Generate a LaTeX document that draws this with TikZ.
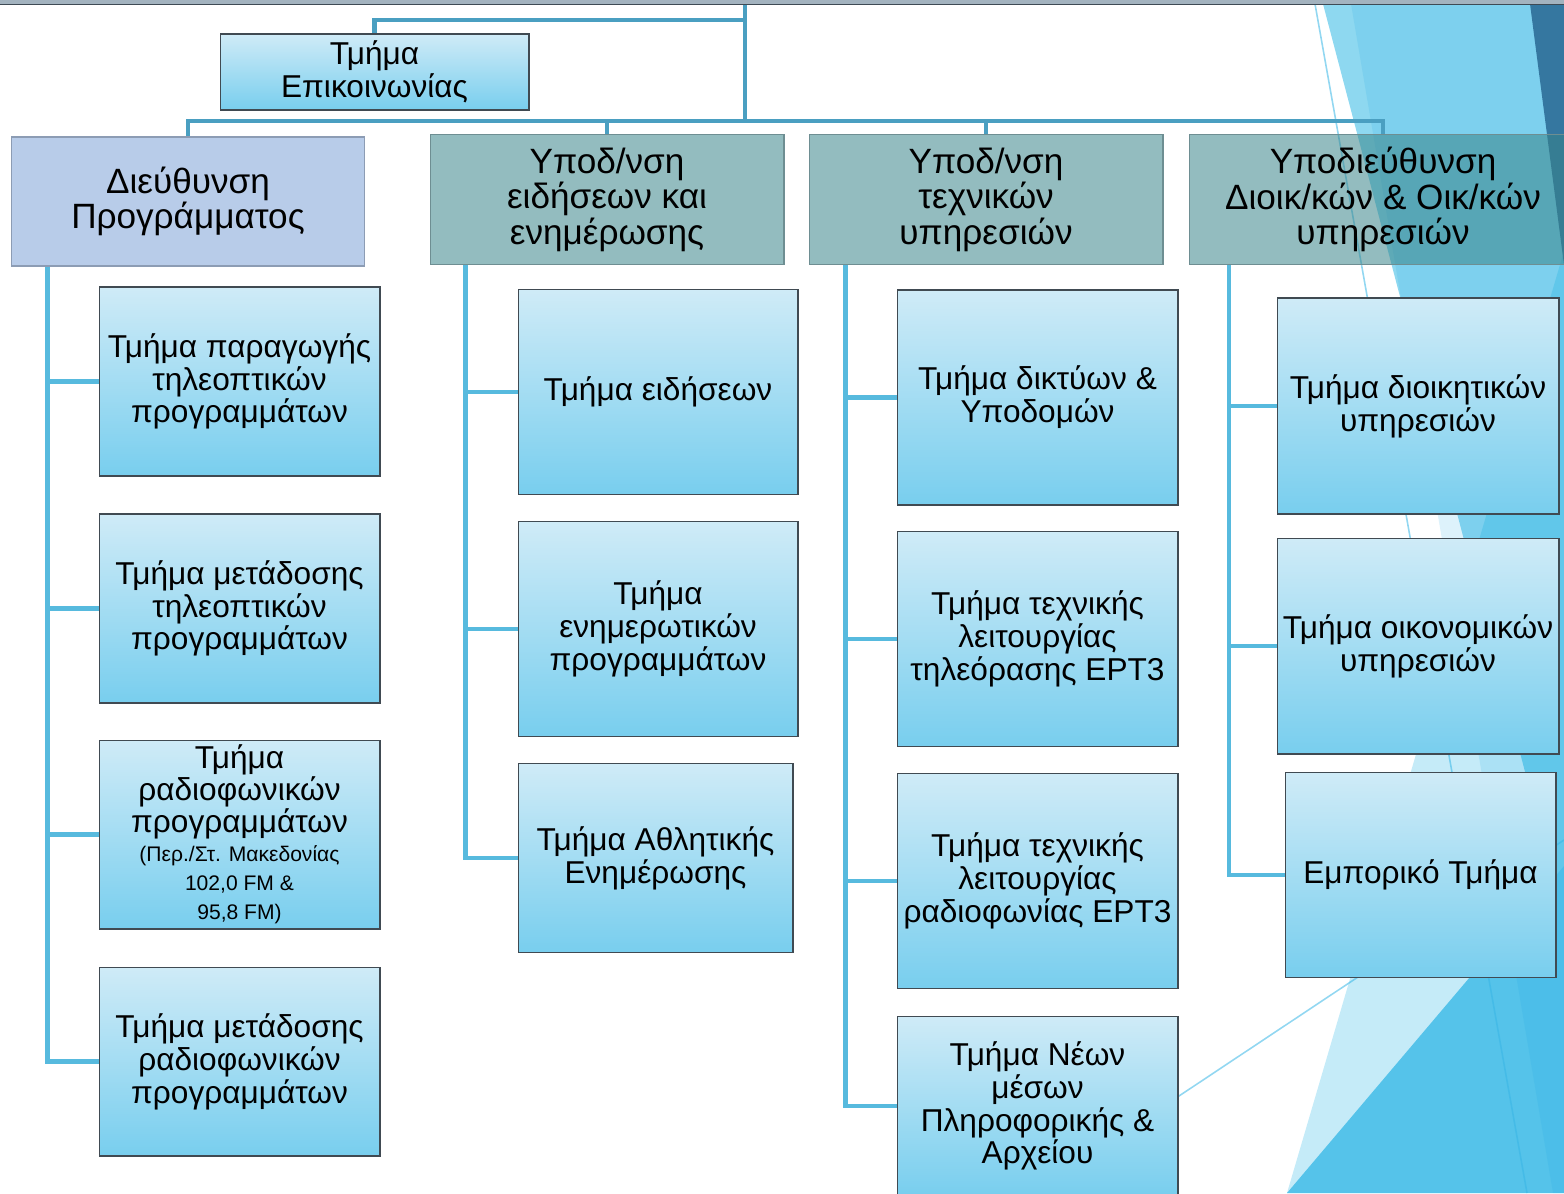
\documentclass[tikz,border=0pt]{standalone}
\usepackage{fontspec}
\setmainfont{Liberation Sans}
\definecolor{bandgray}{HTML}{A3B3BF}
\definecolor{banddark}{HTML}{3E4A54}
\definecolor{pone}{HTML}{8ED8F0}
\definecolor{ptwo}{HTML}{0BABE2}
\definecolor{pthree}{HTML}{55C3EA}
\definecolor{pfive}{HTML}{1CA8E4}
\definecolor{pdark}{HTML}{3577A0}
\definecolor{thinl}{HTML}{38B6E6}
\definecolor{childtop}{HTML}{CFEBF7}
\definecolor{childbot}{HTML}{78CEEE}
\definecolor{boxline}{HTML}{404A52}
\definecolor{headteal}{HTML}{378388}
\definecolor{headline}{HTML}{6E8E92}
\definecolor{headblue}{HTML}{B8CCE9}
\definecolor{headblueline}{HTML}{8C9CB4}
\definecolor{linkA}{HTML}{4A9FC1}
\definecolor{linkB}{HTML}{57BADE}
\begin{document}
\begin{tikzpicture}[x=0.02cm,y=-0.02cm,
  childbox/.style={rectangle, draw=boxline, line width=0.6pt, top color=childtop, bottom color=childbot, align=center, inner sep=0pt, font=\fontsize{18}{18.7}\selectfont},
  headbox/.style={rectangle, draw=headline, line width=0.6pt, fill=headteal, fill opacity=0.54, text opacity=1, align=center, inner sep=0pt, font=\fontsize{20}{20.2}\selectfont},
  dims/.style 2 args={minimum width=#1, minimum height=#2},
  toplink/.style={draw=linkA, line width=2.3pt},
  sublink/.style={draw=linkB, line width=2.3pt},
  thinline/.style={draw=thinl, opacity=0.55, line width=0.9pt}]
\useasboundingbox (0,0) rectangle (1564,1193);
\clip (0,0) rectangle (1564,1193);
% background decoration
\fill[pone] (1323,4) -- (1564,4) -- (1564,920) -- cycle;
\fill[ptwo, opacity=0.24] (1564,251) -- (1564,1193) -- (1287,1193) -- cycle;
\fill[pthree] (1287,1193) -- (1564,866) -- (1564,1193) -- cycle;
\fill[pfive, opacity=0.15] (1351,4) -- (1564,4) -- (1564,1193) -- (1553,1193) -- cycle;
\fill[pdark] (1530,4) -- (1564,4) -- (1564,265) -- cycle;
\draw[thinline] (1315,4) -- (1527,1193);
\draw[thinline] (1000,1215) -- (1564,840);
\fill[bandgray] (0,0) rectangle (1564,4);
\draw[banddark, line width=0.8pt] (0,4.5) -- (1564,4.5);

% top level
\coordinate (root) at (745,5);
\coordinate (busA) at (745,20);
\coordinate (busB) at (745,121);
\node[childbox, dims={6.18cm}{1.52cm}] (comm) at (374.5,72) {Τμήμα\\Επικοινωνίας};

\node[rectangle, draw=headblueline, line width=0.6pt, fill=headblue, align=center, inner sep=0pt, font=\fontsize{20}{20.2}\selectfont, dims={7.08cm}{2.58cm}] (h1) at (188,201.5) {Διεύθυνση\\Προγράμματος};
\node[headbox, dims={7.08cm}{2.6cm}] (h2) at (607,199.5) {Υποδ/νση\\ειδήσεων και\\ενημέρωσης};
\node[headbox, dims={7.08cm}{2.6cm}] (h3) at (986,199.5) {Υποδ/νση\\τεχνικών\\υπηρεσιών};
\node[headbox, dims={7.76cm}{2.6cm}] (h4) at (1383,199.5) {Υποδιεύθυνση\\Διοικ/κών \& Οικ/κών\\υπηρεσιών};

% column 1
\node[childbox, dims={5.62cm}{3.78cm}] (c11) at (239.5,381.5) {Τμήμα παραγωγής\\τηλεοπτικών\\προγραμμάτων};
\node[childbox, dims={5.62cm}{3.78cm}] (c12) at (239.5,608.5) {Τμήμα μετάδοσης\\τηλεοπτικών\\προγραμμάτων};
\node[childbox, dims={5.62cm}{3.78cm}, font=\fontsize{18}{16.5}\selectfont] (c13) at (239.5,834.5) {Τμήμα\\ραδιοφωνικών\\προγραμμάτων\\{\fontsize{12}{16.5}\selectfont (Περ./Στ. Μακεδονίας}\\{\fontsize{12}{16.5}\selectfont 102,0 FM \&}\\{\fontsize{12}{16.5}\selectfont 95,8 FM)}};
\node[childbox, dims={5.62cm}{3.78cm}] (c14) at (239.5,1061.5) {Τμήμα μετάδοσης\\ραδιοφωνικών\\προγραμμάτων};

% column 2
\node[childbox, dims={5.6cm}{4.1cm}] (c21) at (658,392) {Τμήμα ειδήσεων};
\node[childbox, dims={5.6cm}{4.3cm}] (c22) at (658,629) {Τμήμα\\ενημερωτικών\\προγραμμάτων};
\node[childbox, dims={5.5cm}{3.78cm}] (c23) at (655.5,858) {Τμήμα Αθλητικής\\Ενημέρωσης};

% column 3
\node[childbox, dims={5.62cm}{4.3cm}] (c31) at (1037.5,397.5) {Τμήμα δικτύων \&\\Υποδομών};
\node[childbox, dims={5.62cm}{4.3cm}] (c32) at (1037.5,639) {Τμήμα τεχνικής\\λειτουργίας\\τηλεόρασης ΕΡΤ3};
\node[childbox, dims={5.62cm}{4.3cm}] (c33) at (1037.5,881) {Τμήμα τεχνικής\\λειτουργίας\\ραδιοφωνίας ΕΡΤ3};
\node[childbox, dims={5.62cm}{3.6cm}] (c34) at (1037.5,1106) {Τμήμα Νέων\\μέσων\\Πληροφορικής \&\\Αρχείου};

% column 4
\node[childbox, dims={5.64cm}{4.32cm}] (c41) at (1418,406) {Τμήμα διοικητικών\\υπηρεσιών};
\node[childbox, dims={5.64cm}{4.32cm}] (c42) at (1418,646) {Τμήμα οικονομικών\\υπηρεσιών};
\node[childbox, dims={5.42cm}{4.1cm}] (c43) at (1420.5,875) {Εμπορικό Τμήμα};

% connectors top
\draw[toplink] (root) -- (busB);
\draw[toplink] (busA) -| (comm.north);
\draw[toplink] (busB) -| (h1.north);
\draw[toplink] (busB) -| (h2.north);
\draw[toplink] (busB) -| (h3.north);
\draw[toplink] (busB) -| (h4.north);

% connectors children
\foreach \c in {c11,c12,c13,c14} \draw[sublink] ([xshift=0.74cm]h1.south west) |- (\c.west);
\foreach \c in {c21,c22,c23} \draw[sublink] ([xshift=0.72cm]h2.south west) |- (\c.west);
\foreach \c in {c31,c32,c33,c34} \draw[sublink] ([xshift=0.74cm]h3.south west) |- (\c.west);
\foreach \c in {c41,c42,c43} \draw[sublink] ([xshift=0.8cm]h4.south west) |- (\c.west);
\end{tikzpicture}
\end{document}
